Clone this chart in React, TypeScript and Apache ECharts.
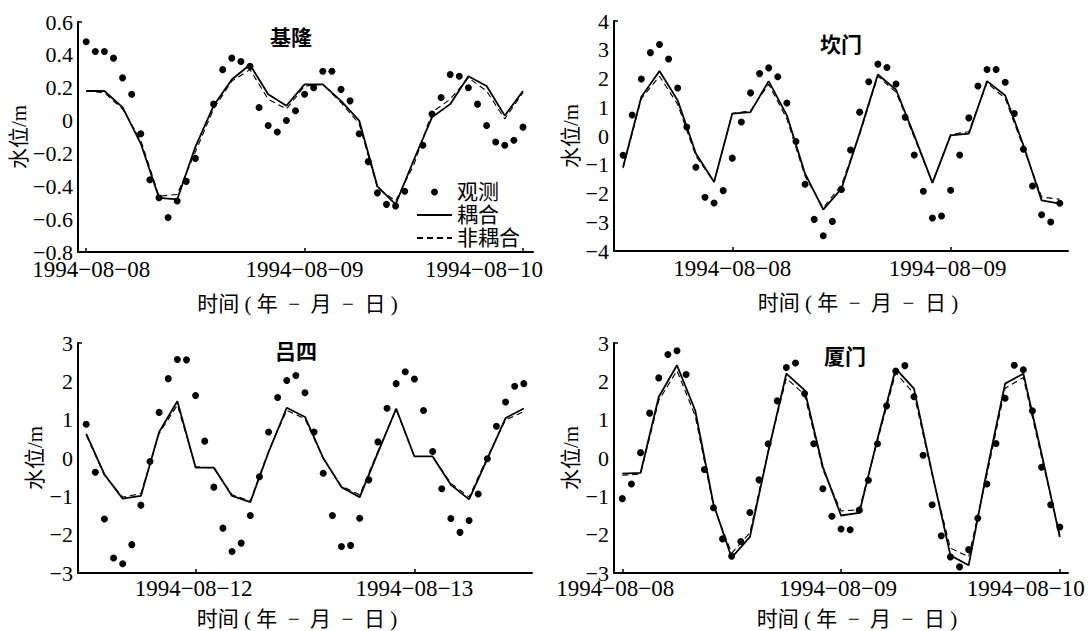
import React, { useEffect, useRef } from 'react';
import * as echarts from 'echarts';

const FONT = "'Liberation Serif', 'Noto Sans CJK SC', serif";

// ---------------- data ----------------
const stations = ['基隆', '坎门', '吕四', '厦门'];
const seriesNames = ['观测', '耦合', '非耦合'];
const yName = '水位/m';
const xName = '时间 ( 年  −  月  −  日 )';

// hour offsets (relative to 00:00 of the first labelled day of each panel)
const obsStart = [0, -12, -12, 0];
const modelStart = [0, -12, -12, 0];
const modelStep = 2;

const dayTicks1 = [0, 24, 48];
const dayLabels1 = ['1994−08−08', '1994−08−09', '1994−08−10'];
const dayTicks2 = [0, 24];
const dayLabels2 = ['1994−08−08', '1994−08−09'];
const dayTicks3 = [0, 24];
const dayLabels3 = ['1994−08−12', '1994−08−13'];
const dayTicks4 = [0, 24, 48];
const dayLabels4 = ['1994−08−08', '1994−08−09', '1994−08−10'];

const yMins = [-0.8, -4, -3, -3];
const yMaxs = [0.6, 4, 3, 3];
const ySteps = [0.2, 1, 1, 1];

// 基隆 (hourly observations, 2-hourly model)
const obs1 = [0.48, 0.42, 0.42, 0.38, 0.26, 0.16, -0.08, -0.36, -0.47, -0.59,
  -0.49, -0.37, -0.23, null, 0.10, 0.31, 0.38, 0.36, 0.33, 0.08,
  -0.03, -0.07, 0.00, 0.06, 0.16, 0.20, 0.30, 0.30, 0.19, 0.12,
  -0.08, -0.25, -0.44, -0.51, -0.52, -0.43, null, -0.15, 0.04, 0.14,
  0.28, 0.27, 0.20, 0.10, -0.03, -0.13, -0.15, -0.12, -0.04];
const cpl1 = [0.18, 0.18, 0.08, -0.14, -0.47, -0.48, -0.16, 0.09, 0.25, 0.34, 0.16, 0.09, 0.22,
  0.22, 0.12, 0.00, -0.40, -0.51, -0.24, 0.02, 0.10, 0.27, 0.21, 0.03, 0.18];
const unc1 = [0.18, 0.17, 0.07, -0.12, -0.46, -0.45, -0.19, 0.07, 0.24, 0.31, 0.13, 0.07, 0.21,
  0.22, 0.11, -0.02, -0.41, -0.49, -0.27, 0.05, 0.13, 0.26, 0.18, 0.01, 0.17];

// 坎门
const obs2 = [-0.67, 0.73, 1.98, 2.90, 3.18, 2.68, 1.67, 0.31, -1.09, -2.13,
  -2.33, -1.90, -0.77, 0.49, 1.50, 2.17, 2.37, 2.06, 1.15, -0.19,
  -1.68, -2.90, -3.47, -2.97, -1.86, -0.49, 0.83, 1.89, 2.50, 2.38,
  1.81, 0.65, -0.66, -1.92, -2.85, -2.78, -1.89, -0.66, 0.63, 1.74,
  2.31, 2.31, 1.87, 0.78, -0.46, -1.74, -2.74, -2.99, -2.34];
const cpl2 = [-1.08, 1.36, 2.26, 1.24, -0.61, -1.60, 0.78, 0.83, 1.91, 0.72, -1.31, -2.56, -1.83,
  0.10, 2.14, 1.61, 0.02, -1.63, 0.02, 0.08, 1.91, 1.41, -0.32, -2.24, -2.35];
const unc2 = [-1.12, 1.30, 2.08, 1.10, -0.70, -1.60, 0.78, 0.88, 1.80, 0.60, -1.40, -2.50, -1.70,
  0.05, 2.08, 1.52, -0.05, -1.63, 0.05, 0.15, 1.85, 1.30, -0.40, -2.12, -2.20];

// 吕四
const obs3 = [0.88, -0.37, -1.59, -2.61, -2.76, -2.26, -1.23, -0.09, 1.19, 2.07,
  2.57, 2.56, 1.63, 0.44, -0.76, -1.83, -2.44, -2.22, -1.50, -0.49,
  0.68, 1.58, 2.02, 2.15, 1.70, 0.68, -0.40, -1.50, -2.31, -2.28,
  -1.57, -0.57, 0.42, 1.30, 1.94, 2.25, 2.06, 1.24, 0.17, -0.80,
  -1.58, -1.94, -1.63, -0.94, -0.02, 0.83, 1.46, 1.87, 1.94];
const cpl3 = [0.63, -0.43, -1.06, -0.99, 0.68, 1.48, -0.25, -0.25, -0.99, -1.15, 0.15, 1.31, 1.07,
  0.00, -0.76, -1.02, 0.14, 1.29, 0.04, 0.04, -0.70, -1.08, -0.02, 1.04, 1.29];
const unc3 = [0.60, -0.45, -1.02, -0.93, 0.64, 1.38, -0.22, -0.27, -0.96, -1.12, 0.18, 1.24, 1.02,
  -0.02, -0.73, -0.96, 0.18, 1.26, 0.04, 0.04, -0.66, -1.02, 0.02, 0.99, 1.21];

// 厦门
const obs4 = [-1.06, -0.68, 0.14, 1.17, 2.09, 2.70, 2.80, 2.18, null, -0.30,
  -1.30, -2.11, -2.56, -2.18, -1.42, -0.57, 0.37, 1.49, 2.36, 2.48,
  1.68, 0.37, -0.80, -1.52, -1.85, -1.87, -1.36, -0.58, 0.37, 1.36,
  2.27, 2.41, 1.60, 0.07, -1.22, -2.03, -2.58, -2.84, -2.39, -1.57,
  -0.68, 0.38, 1.56, 2.42, 2.30, 1.23, -0.24, -1.22, -1.80];
const cpl4 = [-0.41, -0.39, 1.59, 2.42, 1.24, -1.20, -2.60, -2.06, 0.15, 2.20, 1.77, -0.23, -1.50,
  -1.43, 0.50, 2.33, 1.81, -0.40, -2.54, -2.80, -0.34, 1.94, 2.20, 0.11, -2.06];
const unc4 = [-0.45, -0.42, 1.50, 2.28, 1.10, -1.25, -2.48, -1.95, 0.18, 2.08, 1.65, -0.30, -1.38,
  -1.35, 0.45, 2.22, 1.68, -0.45, -2.35, -2.58, -0.45, 1.82, 2.10, 0.02, -2.00];

const obsAll = [obs1, obs2, obs3, obs4];
const cplAll = [cpl1, cpl2, cpl3, cpl4];
const uncAll = [unc1, unc2, unc3, unc4];
const ticksAll = [dayTicks1, dayTicks2, dayTicks3, dayTicks4];
const labelsAll = [dayLabels1, dayLabels2, dayLabels3, dayLabels4];

// ---------------- layout (pixels / styles) ----------------
const layout = [
  { grid: { left: 78, top: 22, width: 455, height: 230 }, xMin: -0.9, xMax: 49.1, title: [291, 38],
    yNameGap: 46, xNameGap: 41, xNameShift: -8, labelMargin: 6, labelShift: [5, 0, -39] },
  { grid: { left: 614, top: 21, width: 454, height: 230 }, xMin: -13, xMax: 36.9, title: [841, 45],
    yNameGap: 33, xNameGap: 41, xNameShift: 17, labelMargin: 6, labelShift: [0, -3] },
  { grid: { left: 78, top: 343, width: 454, height: 230 }, xMin: -12.9, xMax: 36.9, title: [296, 352],
    yNameGap: 33, xNameGap: 35, xNameShift: -8, labelMargin: 4, labelShift: [-2, 0] },
  { grid: { left: 614, top: 343, width: 454, height: 230 }, xMin: -0.91, xMax: 48.9, title: [845, 357],
    yNameGap: 31, xNameGap: 35, xNameShift: 16, labelMargin: 4, labelShift: [-7, -3, -34] },
];

function fmtY(dec: number) {
  return (v: number) => {
    if (Math.abs(v) < 1e-9) return '0';
    const s = v.toFixed(dec);
    return s.replace('-', '−');
  };
}

function buildOption() {
  const grid: any[] = [];
  const xAxis: any[] = [];
  const yAxis: any[] = [];
  const series: any[] = [];
  const graphic: any[] = [];

  for (let i = 0; i < 4; i++) {
    const L = layout[i];
    grid.push({ ...L.grid, containLabel: false });
    const ticks = ticksAll[i];
    const labels = labelsAll[i];
    const rich: any = {};
    ticks.forEach((_, k) => {
      const s = L.labelShift[k] || 0;
      rich['s' + k] = {
        fontSize: 23, fontFamily: FONT, color: '#000',
        padding: [0, s < 0 ? -2 * s : 0, 0, s > 0 ? 2 * s : 0],
      };
    });
    const sh = L.xNameShift;
    xAxis.push({
      type: 'value', gridIndex: i, min: L.xMin, max: L.xMax,
      name: xName, nameLocation: 'middle', nameGap: L.xNameGap,
      nameTextStyle: {
        fontSize: 21, fontFamily: FONT, color: '#000',
        padding: [0, sh < 0 ? -2 * sh : 0, 0, sh > 0 ? 2 * sh : 0],
      },
      axisLine: { show: true, onZero: false, lineStyle: { color: '#000', width: 2 } },
      axisTick: { show: true, inside: true, length: 4, customValues: ticks, lineStyle: { color: '#000', width: 1.5 } },
      axisLabel: {
        show: true, customValues: ticks, margin: L.labelMargin,
        fontSize: 23, fontFamily: FONT, color: '#000', rich,
        formatter: (v: number) => {
          const k = ticks.indexOf(Math.round(v));
          return k < 0 ? '' : '{s' + k + '|' + labels[k] + '}';
        },
      },
      splitLine: { show: false },
    });
    yAxis.push({
      type: 'value', gridIndex: i, min: yMins[i], max: yMaxs[i], interval: ySteps[i],
      name: yName, nameLocation: 'middle', nameGap: L.yNameGap,
      nameTextStyle: { fontSize: 21, fontFamily: FONT, color: '#000' },
      axisLine: { show: true, onZero: false, lineStyle: { color: '#000', width: 2 } },
      axisTick: { show: true, inside: true, length: 4, customValues: [yMaxs[i]], lineStyle: { color: '#000', width: 1.5 } },
      axisLabel: { fontSize: 22, fontFamily: FONT, color: '#000', margin: 5, formatter: fmtY(i === 0 ? 1 : 0) },
      splitLine: { show: false },
    });

    const obsData = obsAll[i]
      .map((v, k) => [obsStart[i] + k, v])
      .filter((p) => p[1] !== null);
    series.push({
      name: seriesNames[0], type: 'scatter', xAxisIndex: i, yAxisIndex: i,
      symbol: 'circle', symbolSize: 7, itemStyle: { color: '#000', opacity: 1 }, data: obsData, z: 3,
    });
    series.push({
      name: seriesNames[1], type: 'line', xAxisIndex: i, yAxisIndex: i, symbol: 'none', showSymbol: false,
      lineStyle: { color: '#000', width: 1.8, type: 'solid' }, itemStyle: { color: '#000' },
      data: cplAll[i].map((v, k) => [modelStart[i] + k * modelStep, v]), z: 4,
    });
    series.push({
      name: seriesNames[2], type: 'line', xAxisIndex: i, yAxisIndex: i, symbol: 'none', showSymbol: false,
      lineStyle: { color: '#000', width: 1.1, type: [6, 4] }, itemStyle: { color: '#000' },
      data: uncAll[i].map((v, k) => [modelStart[i] + k * modelStep, v]), z: 4,
    });

    graphic.push({
      type: 'text', x: L.title[0], y: L.title[1],
      style: { text: stations[i], fontSize: 21, fontFamily: FONT, fontWeight: 'bold', fill: '#000', textAlign: 'center', textVerticalAlign: 'middle' },
    });
  }

  const hidden = { color: 'rgba(0,0,0,0)', borderColor: 'rgba(0,0,0,0)', borderWidth: 0, opacity: 0 };
  return {
    animation: false,
    backgroundColor: '#fff',
    textStyle: { fontFamily: FONT },
    grid, xAxis, yAxis, series, graphic,
    legend: {
      show: true, orient: 'vertical', left: 416, top: 181, padding: 0, itemGap: 1,
      itemWidth: 35, itemHeight: 7, selectedMode: false,
      data: [
        { name: seriesNames[0] },
        { name: seriesNames[1], itemStyle: hidden },
        { name: seriesNames[2], itemStyle: hidden },
      ],
      textStyle: { fontSize: 21, fontFamily: FONT, color: '#000', lineHeight: 22 },
    },
  };
}

export default function App() {
  const ref = useRef<HTMLDivElement>(null);
  useEffect(() => {
    if (!ref.current) return;
    const chart = echarts.init(ref.current, undefined, { renderer: 'svg' });
    chart.setOption(buildOption() as any);
    return () => chart.dispose();
  }, []);
  return (
    <div
      ref={ref}
      style={{ position: 'absolute', left: 0, top: 0, width: 1089, height: 631, background: '#fff' }}
    />
  );
}
